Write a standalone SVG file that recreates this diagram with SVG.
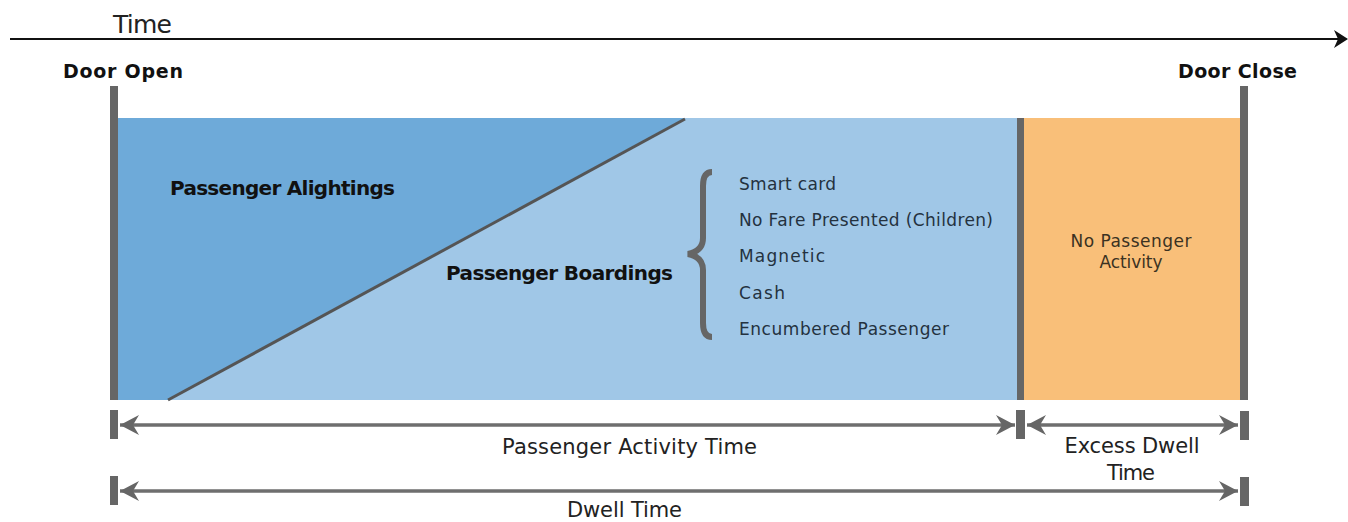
<svg xmlns="http://www.w3.org/2000/svg" width="1348" height="522" viewBox="0 0 1348 522">
  <style>
    text { font-family: "DejaVu Sans", "Liberation Sans", sans-serif; }
    .bold { font-weight: bold; fill: #111; }
    .lbl { fill: #222; font-size: 21px; }
    .item { fill: #24323f; font-size: 17px; }
    .note { fill: #3b3222; font-size: 17px; }
    .bar { fill: #666; }
    .dim { stroke: #6e6e6e; stroke-width: 3.5; fill: none; }
  </style>
  <defs>
    <marker id="dimHead" viewBox="0 0 20 22" refX="20" refY="11" markerWidth="20" markerHeight="22" markerUnits="userSpaceOnUse" orient="auto-start-reverse">
      <path d="M20,11 L1,1 L7,11 L1,21 Z" fill="#666"/>
    </marker>
  </defs>
  <rect width="1348" height="522" fill="#fff"/>

  <!-- time axis -->
  <g id="time-axis">
    <line x1="10" y1="39" x2="1338" y2="39" stroke="#111" stroke-width="2.2"/>
    <path d="M1348,39 L1334,30 L1338,39 L1334,48 Z" fill="#111"/>
    <text x="113" y="33" font-size="25" fill="#222" textLength="59">Time</text>
  </g>

  <!-- door events -->
  <g id="door-open">
    <text class="bold" x="63" y="78" font-size="19" textLength="120">Door Open</text>
    <rect class="bar" x="110" y="86" width="8" height="314"/>
  </g>
  <g id="door-close">
    <text class="bold" x="1178" y="78" font-size="19" textLength="119">Door Close</text>
    <rect class="bar" x="1240" y="86" width="8" height="314"/>
  </g>

  <!-- passenger activity area -->
  <g id="passenger-activity">
    <rect x="118" y="118" width="900" height="282" fill="#a0c7e7"/>
    <polygon points="118,118 685,118 168,400 118,400" fill="#6eaad9"/>
    <line x1="685" y1="119" x2="168" y2="400" stroke="#555" stroke-width="3"/>
    <text class="bold" x="170" y="195" font-size="20" textLength="225">Passenger Alightings</text>
    <text class="bold" x="446" y="280" font-size="20" textLength="227">Passenger Boardings</text>
  </g>

  <!-- boarding fare types -->
  <g id="boarding-types">
    <path d="M712,172 Q703,172 703,186 L703,238 Q703,251 688,254 Q703,257 703,270 L703,323 Q703,337 712,337" fill="none" stroke="#666" stroke-width="6"/>
    <text class="item" x="739" y="190" textLength="97">Smart card</text>
    <text class="item" x="739" y="226" textLength="254">No Fare Presented (Children)</text>
    <text class="item" x="739" y="262" textLength="86">Magnetic</text>
    <text class="item" x="739" y="299" textLength="46">Cash</text>
    <text class="item" x="739" y="335" textLength="210">Encumbered Passenger</text>
  </g>

  <!-- idle period -->
  <g id="no-activity">
    <rect x="1024" y="118" width="216" height="282" fill="#f9bf79"/>
    <rect class="bar" x="1017" y="118" width="7" height="282"/>
    <text class="note" x="1131" y="247" text-anchor="middle" textLength="121">No Passenger</text>
    <text class="note" x="1131" y="268" text-anchor="middle" textLength="63">Activity</text>
  </g>

  <!-- duration dimensions -->
  <g id="connectors">
    <rect class="bar" x="110" y="410" width="8" height="29"/>
    <rect class="bar" x="1016" y="410" width="9" height="29"/>
    <rect class="bar" x="1240" y="411" width="9" height="29"/>
    <rect class="bar" x="110" y="476" width="8" height="29"/>
    <rect class="bar" x="1240" y="477" width="9" height="29"/>
    <line class="dim" x1="120" y1="425" x2="1015" y2="425" marker-start="url(#dimHead)" marker-end="url(#dimHead)"/>
    <line class="dim" x1="1027" y1="425" x2="1238" y2="425" marker-start="url(#dimHead)" marker-end="url(#dimHead)"/>
    <line class="dim" x1="120" y1="491" x2="1238" y2="491" marker-start="url(#dimHead)" marker-end="url(#dimHead)"/>
  </g>

  <g id="durations">
    <text class="lbl" x="502" y="454" textLength="255">Passenger Activity Time</text>
    <text class="lbl" x="1132" y="453" text-anchor="middle" textLength="135">Excess Dwell</text>
    <text class="lbl" x="1131" y="480" text-anchor="middle" textLength="48">Time</text>
    <text class="lbl" x="567" y="517" textLength="115">Dwell Time</text>
  </g>
</svg>
